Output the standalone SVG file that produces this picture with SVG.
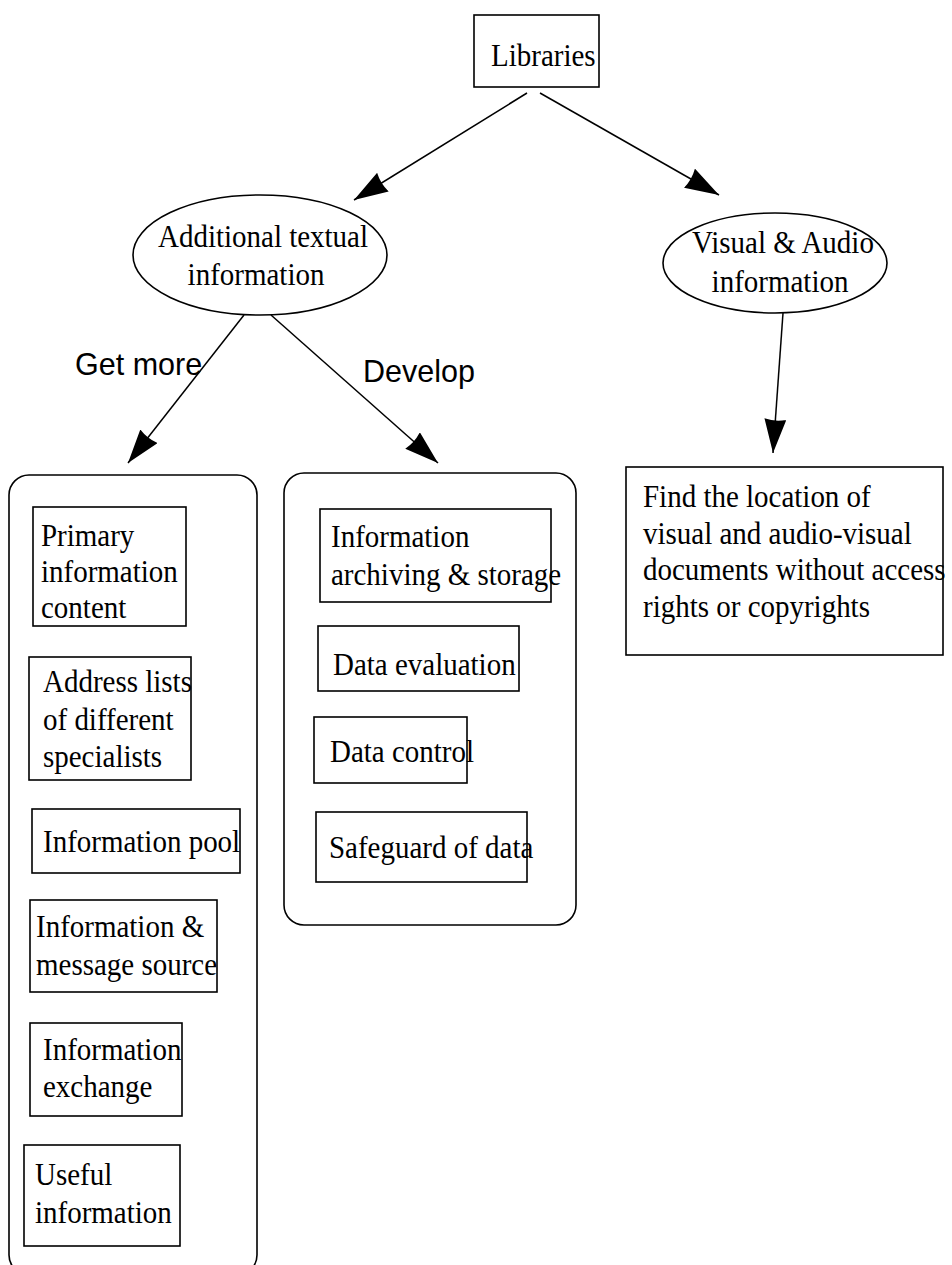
<svg xmlns="http://www.w3.org/2000/svg" width="952" height="1265" viewBox="0 0 952 1265">
  <style>
    .box { fill: #ffffff; stroke: #000000; stroke-width: 1.6; }
    .group { fill: none; stroke: #000000; stroke-width: 1.6; }
    .edge { fill: none; stroke: #000000; stroke-width: 1.5; }
    .t { font-family: "Liberation Serif", "Times New Roman", serif; font-size: 32px; fill: #000000; }
    .lbl { font-family: "Liberation Sans", Arial, sans-serif; font-size: 30.5px; fill: #000000; }
  </style>
  <defs>
    <marker id="head" viewBox="0 0 34 22" refX="34" refY="11" markerWidth="34" markerHeight="22" markerUnits="userSpaceOnUse" orient="auto">
      <path d="M0,0 L34,11 L0,22 Q3,11 0,0 Z" fill="#000000"/>
    </marker>
  </defs>

  <rect width="952" height="1265" fill="#ffffff"/>

  <!-- connectors -->
  <g id="connectors">
    <line class="edge" x1="527" y1="93" x2="354" y2="200" marker-end="url(#head)"/>
    <line class="edge" x1="540" y1="93" x2="719" y2="195" marker-end="url(#head)"/>
    <line class="edge" x1="244" y1="315" x2="128" y2="463" marker-end="url(#head)"/>
    <line class="edge" x1="271" y1="315" x2="438" y2="463" marker-end="url(#head)"/>
    <line class="edge" x1="783" y1="313" x2="773" y2="453" marker-end="url(#head)"/>
    <text class="lbl" x="75" y="375">Get more</text>
    <text class="lbl" x="363" y="382">Develop</text>
  </g>

  <!-- root; serif labels are drawn slightly narrowed (scale 0.906 across) -->
  <g id="libraries">
    <rect class="box" x="474" y="15" width="125" height="72"/>
    <text class="t" transform="translate(491 66) scale(0.906 1)">Libraries</text>
  </g>

  <g id="textual">
    <ellipse class="box" cx="260" cy="255" rx="127" ry="60"/>
    <text class="t" text-anchor="middle" transform="translate(263 247) scale(0.906 1)">Additional textual</text>
    <text class="t" text-anchor="middle" transform="translate(256 285) scale(0.906 1)">information</text>
  </g>

  <g id="visual-audio">
    <ellipse class="box" cx="775" cy="263" rx="112" ry="50"/>
    <text class="t" text-anchor="middle" transform="translate(783 253) scale(0.906 1)">Visual &amp; Audio</text>
    <text class="t" text-anchor="middle" transform="translate(780 292) scale(0.906 1)">information</text>
  </g>

  <!-- "Get more" cluster -->
  <g id="get-more-group">
    <rect class="group" x="9" y="475" width="248" height="800" rx="20" ry="20"/>
  </g>
  <g id="primary">
    <rect class="box" x="33" y="507" width="153" height="119"/>
    <text class="t" transform="translate(41 546) scale(0.906 1)">Primary</text>
    <text class="t" transform="translate(41 582) scale(0.906 1)">information</text>
    <text class="t" transform="translate(41 618) scale(0.906 1)">content</text>
  </g>
  <g id="address">
    <rect class="box" x="29" y="657" width="162" height="123"/>
    <text class="t" transform="translate(43 692) scale(0.906 1)">Address lists</text>
    <text class="t" transform="translate(43 730) scale(0.906 1)">of different</text>
    <text class="t" transform="translate(43 767) scale(0.906 1)">specialists</text>
  </g>
  <g id="pool">
    <rect class="box" x="32" y="809" width="208" height="64"/>
    <text class="t" transform="translate(43 852) scale(0.906 1)">Information pool</text>
  </g>
  <g id="message-source">
    <rect class="box" x="30" y="900" width="187" height="92"/>
    <text class="t" transform="translate(36 937) scale(0.906 1)">Information &amp;</text>
    <text class="t" transform="translate(36 975) scale(0.906 1)">message source</text>
  </g>
  <g id="exchange">
    <rect class="box" x="30" y="1023" width="152" height="93"/>
    <text class="t" transform="translate(43 1060) scale(0.906 1)">Information</text>
    <text class="t" transform="translate(43 1097) scale(0.906 1)">exchange</text>
  </g>
  <g id="useful">
    <rect class="box" x="24" y="1145" width="156" height="101"/>
    <text class="t" transform="translate(35 1185) scale(0.906 1)">Useful</text>
    <text class="t" transform="translate(35 1223) scale(0.906 1)">information</text>
  </g>

  <!-- "Develop" cluster -->
  <g id="develop-group">
    <rect class="group" x="284" y="473" width="292" height="452" rx="20" ry="20"/>
  </g>
  <g id="archiving">
    <rect class="box" x="320" y="509" width="231" height="93"/>
    <text class="t" transform="translate(331 547) scale(0.906 1)">Information</text>
    <text class="t" transform="translate(331 585) scale(0.906 1)">archiving &amp; storage</text>
  </g>
  <g id="evaluation">
    <rect class="box" x="318" y="626" width="201" height="65"/>
    <text class="t" transform="translate(333 675) scale(0.906 1)">Data evaluation</text>
  </g>
  <g id="control">
    <rect class="box" x="314" y="717" width="153" height="66"/>
    <text class="t" transform="translate(330 762) scale(0.906 1)">Data control</text>
  </g>
  <g id="safeguard">
    <rect class="box" x="316" y="812" width="211" height="70"/>
    <text class="t" transform="translate(329 858) scale(0.906 1)">Safeguard of data</text>
  </g>

  <!-- visual documents -->
  <g id="find-location">
    <rect class="box" x="626" y="467" width="317" height="188"/>
    <text class="t" transform="translate(643 507) scale(0.906 1)">Find the location of</text>
    <text class="t" transform="translate(643 544) scale(0.906 1)">visual and audio-visual</text>
    <text class="t" transform="translate(643 580) scale(0.906 1)">documents without access</text>
    <text class="t" transform="translate(643 617) scale(0.906 1)">rights or copyrights</text>
  </g>
</svg>
